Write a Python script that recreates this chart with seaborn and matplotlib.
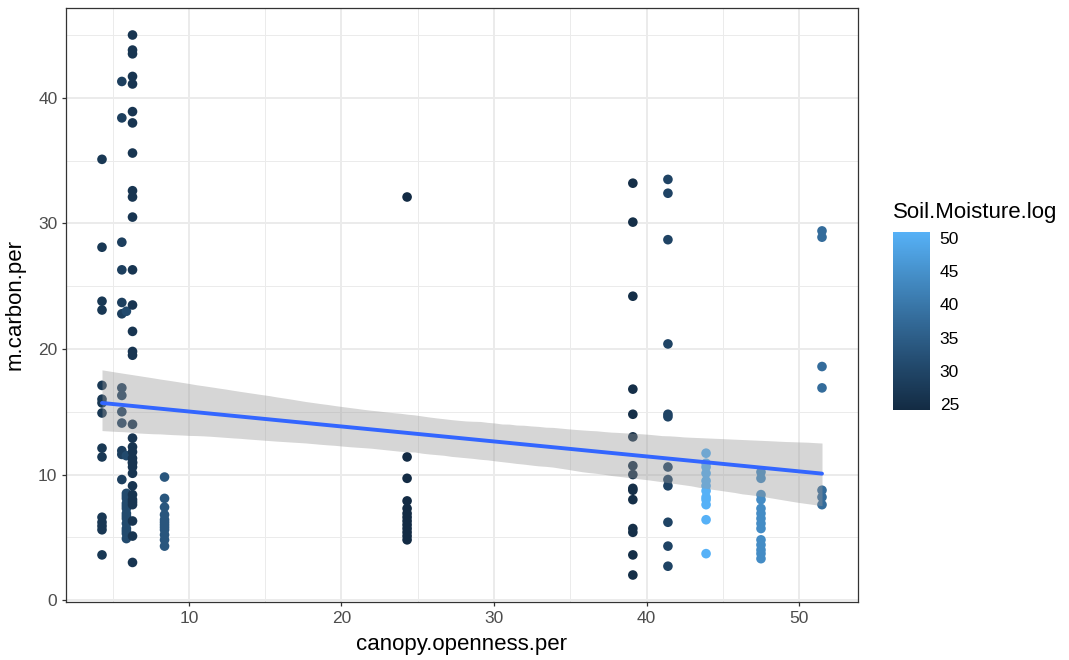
import numpy as np
import pandas as pd
import matplotlib
matplotlib.use("Agg")
import matplotlib.pyplot as plt
import seaborn as sns
from matplotlib.colors import LinearSegmentedColormap, Normalize
from matplotlib.cm import ScalarMappable
from matplotlib.ticker import MultipleLocator

# ---- data (dense columns include overplotted points) ----
site_canopy = [4.3, 5.6, 5.9, 6.3, 8.4, 24.3, 39.1, 41.4, 43.9, 47.5, 51.5]
site_moisture = [27.0, 28.5, 31.0, 26.5, 33.5, 24.3, 25.0, 29.5, 50.9, 44.0, 38.0]

carbon_4_3 = [35.1, 28.1, 23.8, 23.1, 17.1, 16.0, 15.7, 14.9, 12.1, 11.4, 6.6, 6.2, 5.9, 5.6, 3.6]
carbon_5_6 = [41.3, 38.4, 28.5, 26.3, 23.7, 22.8, 16.9, 16.3, 15.0, 14.1, 11.9, 11.6, 9.6]
carbon_5_9 = [23.0, 11.5, 8.5, 8.3, 8.1, 7.7, 7.5, 7.3, 6.9, 6.7, 6.5, 6.1, 5.7, 5.5, 5.3, 4.9]
carbon_6_3 = [45.0, 43.8, 43.5, 41.7, 41.1, 38.9, 38.0, 35.6, 32.6, 32.1, 30.5, 26.3,
              23.5, 21.4, 19.8, 19.5, 14.0, 12.9, 12.2, 11.8, 11.3, 11.0, 10.9, 10.6,
              10.1, 9.1, 8.4, 8.0, 7.8, 7.6, 6.3, 5.1, 3.0]
carbon_8_4 = [9.8, 8.1, 7.4, 6.8, 6.4, 6.2, 6.0, 5.8, 5.6, 5.2, 4.8, 4.3]
carbon_24_3 = [32.1, 11.4, 9.7, 7.9, 7.3, 6.9, 6.6, 6.3, 6.0, 5.7, 5.4, 5.1, 4.8]
carbon_39_1 = [33.2, 30.1, 24.2, 16.8, 14.8, 13.0, 10.7, 10.0, 8.9, 8.75, 8.0, 5.7, 5.4, 3.6, 2.0]
carbon_41_4 = [33.5, 32.4, 28.7, 20.4, 14.8, 14.6, 10.6, 9.6, 9.1, 6.2, 4.3, 2.7]
carbon_43_9 = [11.7, 10.9, 10.6, 10.1, 9.5, 9.1, 8.7, 8.2, 8.0, 7.6, 6.4, 3.7]
carbon_47_5 = [10.2, 9.7, 8.4, 8.0, 7.3, 6.9, 6.5, 6.1, 5.7, 4.8, 4.4, 4.0, 3.7, 3.3]
carbon_51_5 = [29.4, 28.9, 18.6, 16.9, 8.75, 8.2, 7.6]

carbon_by_site = [carbon_4_3, carbon_5_6, carbon_5_9, carbon_6_3, carbon_8_4, carbon_24_3,
                  carbon_39_1, carbon_41_4, carbon_43_9, carbon_47_5, carbon_51_5]

x_ticks = [10, 20, 30, 40, 50]
y_ticks = [0, 10, 20, 30, 40]
cbar_ticks = [25, 30, 35, 40, 45, 50]

rows = []
for c, m, vals in zip(site_canopy, site_moisture, carbon_by_site):
    for v in vals:
        rows.append((c, v, m))
df = pd.DataFrame(rows, columns=["canopy.openness.per", "m.carbon.per", "Soil.Moisture.log"])

# ---- styling ----
sns.set_theme(style="white")
plt.rcParams["font.family"] = ["Liberation Sans", "DejaVu Sans"]

cmap = LinearSegmentedColormap.from_list(
    "gg", ["#132B43", "#22496C", "#336A98", "#448DC6", "#56B1F7"])
norm = Normalize(vmin=24.1, vmax=50.9)

fig = plt.figure(figsize=(10.69, 6.6), dpi=100)
ax = fig.add_axes([66 / 1069, 1 - 602 / 660, 792 / 1069, 594 / 660])

sns.scatterplot(data=df, x="canopy.openness.per", y="m.carbon.per",
                hue="Soil.Moisture.log", palette=cmap, hue_norm=norm,
                s=48, linewidth=0, legend=False, ax=ax, zorder=3)

# confidence band (grey) then fitted line (blue)
sns.regplot(data=df, x="canopy.openness.per", y="m.carbon.per", scatter=False,
            ci=95, seed=1, color="#999999", line_kws=dict(alpha=0), ax=ax, truncate=True)
band = ax.collections[-1]
band.set_alpha(0.4)
band.set_zorder(4)
band.set_linewidth(0)
sns.regplot(data=df, x="canopy.openness.per", y="m.carbon.per", scatter=False,
            ci=None, color="#3366FF", line_kws=dict(lw=2.8, zorder=5), ax=ax, truncate=True)

ax.set_xlim(1.94, 53.86)
ax.set_ylim(-0.15, 47.15)
ax.set_xticks(x_ticks)
ax.set_yticks(y_ticks)
ax.xaxis.set_minor_locator(MultipleLocator(5))
ax.yaxis.set_minor_locator(MultipleLocator(5))
ax.set_axisbelow(True)
ax.grid(which="major", color="#EBEBEB", lw=1.4)
ax.grid(which="minor", color="#EBEBEB", lw=0.7)
for s in ax.spines.values():
    s.set_color("#333333")
    s.set_linewidth(0.9)
ax.tick_params(which="major", length=3.2, width=0.9, color="#333333",
               labelcolor="#4D4D4D", labelsize=12.5, pad=3,
               bottom=True, left=True)
ax.tick_params(which="minor", length=0)
ax.set_xlabel("canopy.openness.per", fontsize=16, color="black", labelpad=6)
ax.set_ylabel("m.carbon.per", fontsize=16, color="black", labelpad=9)

# colourbar legend
cax = fig.add_axes([893 / 1069, 1 - 410 / 660, 37 / 1069, 178 / 660])
cb = fig.colorbar(ScalarMappable(norm=norm, cmap=cmap), cax=cax)
cb.outline.set_visible(False)
cb.set_ticks(cbar_ticks)
cax.tick_params(axis="y", direction="in", length=5.2, width=0.9, colors="white",
                left=True, right=True, labelleft=False, labelright=True,
                labelcolor="black", labelsize=12.5, pad=7)
fig.text(893 / 1069, 1 - 212 / 660, "Soil.Moisture.log", fontsize=16,
         va="center", ha="left", color="black")

fig.savefig("out.png", dpi=100, facecolor="white")
